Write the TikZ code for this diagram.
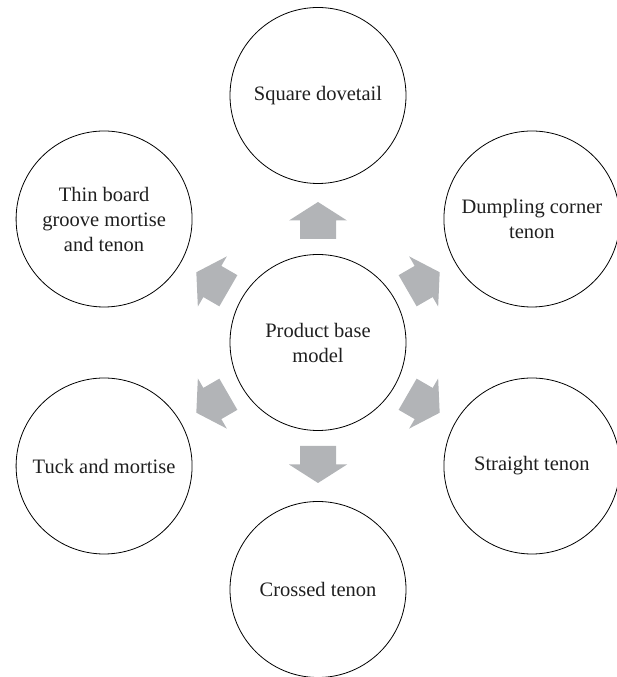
\documentclass[tikz,border=0pt]{standalone}
\usepackage{fontspec}
\setmainfont{Liberation Serif}
\usetikzlibrary{calc}
\begin{document}
\begin{tikzpicture}[x=1pt,y=1pt,
  bubble/.style={draw=black, line width=0.8pt, circle, minimum size=176pt, inner sep=0pt,
    align=center, font=\fontsize{20.5}{25}\selectfont, text=black!88},
  blockarrow/.style={fill=arrowgray}]
\definecolor{arrowgray}{RGB}{178,180,183}
\useasboundingbox (0,0) rectangle (617,677);
\coordinate (C) at (318,334.5);
\node[bubble] (c) at (C) {Product base\\model};
\node[bubble] (t) at ($(C)+(90:247)$) {Square dovetail};
\node[bubble] (tr) at ($(C)+(30:247)$) {Dumpling corner\\tenon};
\node[bubble] (br) at ($(C)+(-30:247)$) {Straight tenon};
\node[bubble] (b) at ($(C)+(-90:247)$) {Crossed tenon};
\node[bubble] (bl) at ($(C)+(-150:247)$) {Tuck and mortise};
\node[bubble] (tl) at ($(C)+(150:247)$) {Thin board\\groove mortise\\and tenon};
\foreach \a in {90,30,-30,-90,-150,150}{
  \begin{scope}[shift={(C)}, rotate=\a]
    \fill[blockarrow] (103.5,-18) -- (122,-18) -- (122,-29) -- (140.5,0) -- (122,29) -- (122,18) -- (103.5,18) -- cycle;
  \end{scope}
}
\end{tikzpicture}
\end{document}
